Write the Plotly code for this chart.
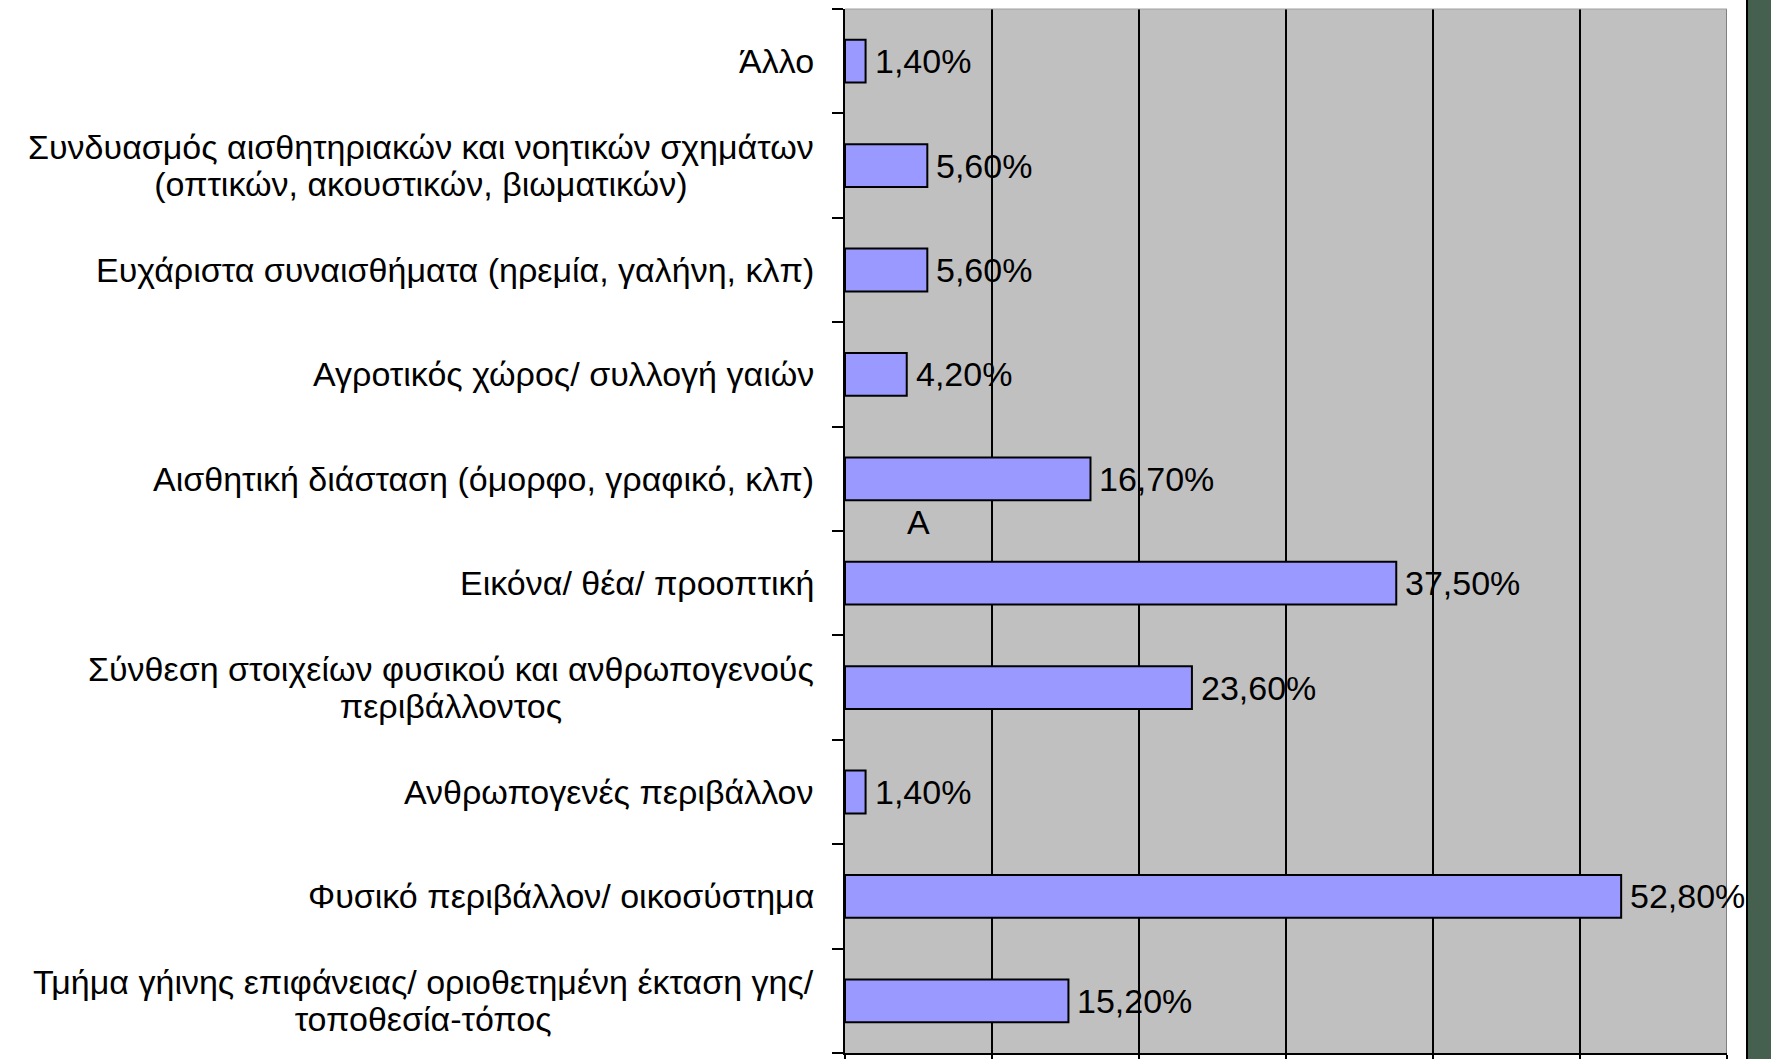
import plotly.graph_objects as go

# Categories listed from bottom to top
categories = [
    "Τμήμα γήινης επιφάνειας/ οριοθετημένη έκταση γης/<br>τοποθεσία-τόπος",
    "Φυσικό περιβάλλον/ οικοσύστημα",
    "Ανθρωπογενές περιβάλλον",
    "Σύνθεση στοιχείων φυσικού και ανθρωπογενούς<br>περιβάλλοντος",
    "Εικόνα/ θέα/ προοπτική",
    "Αισθητική διάσταση (όμορφο, γραφικό, κλπ)",
    "Αγροτικός χώρος/ συλλογή γαιών",
    "Ευχάριστα συναισθήματα (ηρεμία, γαλήνη, κλπ)",
    "Συνδυασμός αισθητηριακών και νοητικών σχημάτων<br>(οπτικών, ακουστικών, βιωματικών)",
    "Άλλο",
]
values = [15.2, 52.8, 1.4, 23.6, 37.5, 16.7, 4.2, 5.6, 5.6, 1.4]
value_labels = [f"{v:.2f}".replace(".", ",") + "%" for v in values]
x_ticks = [0, 10, 20, 30, 40, 50, 60]
note_text = "A"
note_x = 5.0
note_y = 4.59

FONT = "Liberation Sans, Arial, sans-serif"
FS_TXT = 34
FS_LINE = 28.5  # base size controlling line spacing of two-line labels


def styled(label):
    return "<br>".join(
        f"<span style='font-size:{FS_TXT}px'>{part}</span>" for part in label.split("<br>")
    )


fig = go.Figure()
fig.add_trace(go.Bar(
    y=list(range(len(categories))),
    x=values,
    orientation="h",
    marker=dict(color="#9999ff", line=dict(color="black", width=2)),
    width=0.41,
    hoverinfo="skip",
))

annotations = []
for i, c in enumerate(categories):
    annotations.append(dict(
        x=0, xref="paper", y=i, yref="y",
        text=styled(c), showarrow=False, xanchor="right", yanchor="middle",
        align="center", xshift=-29,
        font=dict(family=FONT, size=FS_LINE, color="black"),
    ))
for i, (v, t) in enumerate(zip(values, value_labels)):
    annotations.append(dict(
        x=v, xref="x", y=i, yref="y",
        text=t, showarrow=False, xanchor="left", yanchor="middle",
        xshift=7,
        font=dict(family=FONT, size=FS_TXT, color="black"),
    ))
annotations.append(dict(
    x=note_x, y=note_y, xref="x", yref="y", text=note_text, showarrow=False,
    font=dict(family=FONT, size=FS_TXT, color="black"),
))

W, H = 1771, 1059
L, T = 845, 9
R = W - 1727
B = H - 1053
pw = W - L - R

shapes = [
    dict(type="line", xref="x", yref="paper", x0=60, x1=60, y0=0, y1=1,
         line=dict(color="#808080", width=2), layer="above"),
    dict(type="line", xref="paper", yref="paper", x0=0, x1=1, y0=1, y1=1,
         line=dict(color="#a0a0a0", width=1), layer="above"),
    dict(type="rect", xref="paper", yref="paper",
         x0=(1747 - L) / pw, x1=(W + 10 - L) / pw, y0=-0.05, y1=1.05,
         fillcolor="#46604f", line=dict(color="black", width=2), layer="above"),
]

fig.update_layout(
    width=W, height=H,
    margin=dict(l=L, r=R, t=T, b=B, pad=0, autoexpand=False),
    paper_bgcolor="white",
    plot_bgcolor="#c0c0c0",
    showlegend=False,
    annotations=annotations,
    shapes=shapes,
    font=dict(family=FONT, size=FS_TXT, color="black"),
)
fig.update_xaxes(
    range=[0, 60], tickvals=x_ticks, showticklabels=False, automargin=False,
    showgrid=True, gridcolor="black", gridwidth=1.5,
    zeroline=False, showline=True, linecolor="black", linewidth=2,
    ticks="outside", ticklen=10, tickcolor="black", tickwidth=1.5,
)
fig.update_yaxes(
    range=[-0.5, len(categories) - 0.5], automargin=False,
    tickvals=[k - 0.5 for k in range(len(categories) + 1)],
    showticklabels=False, showgrid=False, zeroline=False,
    showline=True, linecolor="black", linewidth=2,
    ticks="outside", ticklen=11, tickcolor="black", tickwidth=1.5,
)

fig.write_html(
    "out.html",
    config={"displayModeBar": False},
    post_script="document.body.style.margin='0';document.body.style.overflow='hidden';",
)
